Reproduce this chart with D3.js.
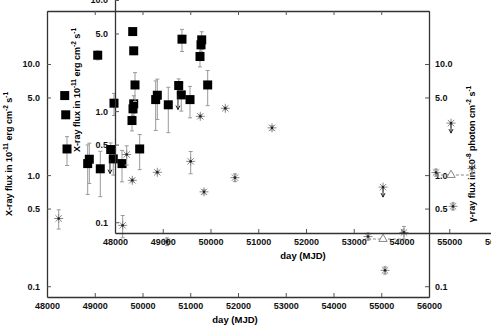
<!DOCTYPE html>
<html>
<head>
<meta charset="utf-8">
<script src="https://cdn.jsdelivr.net/npm/d3@7"></script>
<style>
  body { margin: 0; background: #fff; }
  text { font-family: "Liberation Sans", Arial, sans-serif; font-weight: bold; }
</style>
</head>
<body>
<svg id="chart" width="491" height="327"></svg>
<script>

// DATA

// X-ray flux (squares), 10^-11 erg cm^-2 s^-1
var xrayMjd  = [48371, 48392, 48419, 48852, 48886, 49062, 49116, 49334, 49388, 49403, 49571, 49780, 49801, 49816, 49941];
var xrayFlux = [5.20, 3.49, 1.72, 1.27, 1.39, 12.0, 1.14, 1.70, 1.40, 4.44, 1.27, 3.10, 3.95, 4.38, 1.72];
var xrayErr  = [0.3, 0.2, 0.5, 0.6, 0.55, 1.1, 0.5, 0.25, 0.4, 1.0, 0.4, 0.6, 0.5, 0.8, 0.6];

// X-ray upper limit
var xrayLimMjd  = [49319];
var xrayLimFlux = [1.38];

// gamma-ray flux (asterisks), 10^-8 photon cm^-2 s^-1
var gammaMjd  = [48245, 49585, 49786, 50310, 50513, 51288, 54723, 55079, 55476];
var gammaFlux = [0.407, 0.353, 0.898, 1.06, 0.252, 0.707, 0.280, 0.139, 0.305];
var gammaErr  = [0.08, 0.08, 0.03, 0.03, 0.02, 0.03, 0.02, 0.01, 0.04];

// gamma-ray upper limit
var gammaLimMjd  = [55037];
var gammaLimFlux = [0.78];

// averaged point (triangle) with its time span
var avgMjd   = [55037];
var avgFlux  = [0.266];
var avgErr   = [0.015];
var avgFrom  = [54720];
var avgTo    = [55480];

// axes
var xTicks = [48000, 49000, 50000, 51000, 52000, 53000, 54000, 55000, 56000];
var yTicks = [0.1, 0.5, 1.0, 5.0, 10.0];
var xDomain = [48000, 56000];
var yDomain = [0.08, 30];


// LAYOUT

var margin = { left: 47, top: 11 };
var width  = 382;
var height = 286;
var insetOffset = [68, -64];

var svg = d3.select( '#chart' );

var x = d3.scaleLinear().domain( xDomain ).range( [0, width] );
var y = d3.scaleLog().domain( yDomain ).range( [height, 0] );

var fmt = d3.format( '.1f' );


// HELPERS

function styleAxis( g ) {
    g.select( '.domain' ).attr( 'stroke', '#333' ).attr( 'stroke-width', 1.3 );
    g.selectAll( '.tick line' ).attr( 'stroke', '#555' );
    g.selectAll( '.tick text' ).attr( 'fill', '#111' ).style( 'font-size', '9px' );
}

// Text with superscript parts: [ [text, isSup], ... ]
function richText( sel, parts ) {
    parts.forEach( function( p ) {
        var t = sel.append( 'tspan' ).text( p[0] );
        if ( p[1] ) {
            t.attr( 'dy', -4 ).style( 'font-size', '6.5px' );
        } else {
            t.attr( 'dy', 4 );
        }
    } );
    // first tspan must not shift
    sel.select( 'tspan' ).attr( 'dy', 0 );
}

var starPath = 'M-4.5,0H4.5M0,-4.5V4.5M-3.2,-3.2L3.2,3.2M-3.2,3.2L3.2,-3.2';


// PANEL (drawn twice, the second copy shifted up-right)

function drawPanel( root ) {

    var g = root.append( 'g' )
                .attr( 'transform', 'translate(' + margin.left + ',' + margin.top + ')' );

    // Axes
    g.append( 'g' )
        .attr( 'transform', 'translate(0,' + height + ')' )
        .call( d3.axisBottom( x ).tickValues( xTicks ).tickSizeInner( -4 ).tickSizeOuter( 0 ).tickPadding( 6 ).tickFormat( d3.format( 'd' ) ) )
        .call( styleAxis );

    g.append( 'g' )
        .call( d3.axisTop( x ).tickValues( xTicks ).tickSizeInner( -4 ).tickSizeOuter( 0 ).tickFormat( '' ) )
        .call( styleAxis );

    g.append( 'g' )
        .call( d3.axisLeft( y ).tickValues( yTicks ).tickSizeInner( -4 ).tickSizeOuter( 0 ).tickPadding( 7 ).tickFormat( fmt ) )
        .call( styleAxis );

    g.append( 'g' )
        .attr( 'transform', 'translate(' + width + ',0)' )
        .call( d3.axisRight( y ).tickValues( yTicks ).tickSizeInner( -4 ).tickSizeOuter( 0 ).tickPadding( 6 ).tickFormat( fmt ) )
        .call( styleAxis );

    // Axis titles
    g.append( 'text' )
        .attr( 'x', width / 2 - 3 )
        .attr( 'y', height + 26 )
        .attr( 'text-anchor', 'middle' )
        .style( 'font-size', '9.5px' )
        .text( 'day (MJD)' );

    var yl = g.append( 'text' )
                .attr( 'transform', 'translate(' + ( -35 ) + ',' + ( height / 2 ) + ') rotate(-90)' )
                .attr( 'text-anchor', 'middle' )
                .style( 'font-size', '9px' );
    richText( yl, [ ['X-ray flux in 10', 0], ['-11', 1], [' erg cm', 0], ['-2', 1], [' s', 0], ['-1', 1] ] );

    var yr = g.append( 'text' )
                .attr( 'transform', 'translate(' + ( width + 46 ) + ',' + ( height / 2 ) + ') rotate(-90)' )
                .attr( 'text-anchor', 'middle' )
                .style( 'font-size', '9px' );
    richText( yr, [ ['\u03b3-ray flux in 10', 0], ['-8', 1], [' photon cm', 0], ['-2', 1], [' s', 0], ['-1', 1] ] );

    // X-ray error bars
    var xray = xrayMjd.map( function( d, i ) {
        return { mjd: d, v: xrayFlux[i], e: xrayErr[i] };
    } );

    var eb = g.append( 'g' ).attr( 'stroke', '#999' ).attr( 'stroke-width', 1 );
    xray.forEach( function( d ) {
        var cx = x( d.mjd ), y0 = y( d.v - d.e ), y1 = y( d.v + d.e );
        eb.append( 'line' ).attr( 'x1', cx ).attr( 'x2', cx ).attr( 'y1', y0 ).attr( 'y2', y1 );
        eb.append( 'line' ).attr( 'x1', cx - 2 ).attr( 'x2', cx + 2 ).attr( 'y1', y0 ).attr( 'y2', y0 );
        eb.append( 'line' ).attr( 'x1', cx - 2 ).attr( 'x2', cx + 2 ).attr( 'y1', y1 ).attr( 'y2', y1 );
    } );

    // gamma error bars
    var gamma = gammaMjd.map( function( d, i ) {
        return { mjd: d, v: gammaFlux[i], e: gammaErr[i] };
    } );
    gamma.forEach( function( d ) {
        var cx = x( d.mjd ), y0 = y( d.v - d.e ), y1 = y( d.v + d.e );
        eb.append( 'line' ).attr( 'x1', cx ).attr( 'x2', cx ).attr( 'y1', y0 ).attr( 'y2', y1 );
        eb.append( 'line' ).attr( 'x1', cx - 2 ).attr( 'x2', cx + 2 ).attr( 'y1', y0 ).attr( 'y2', y0 );
        eb.append( 'line' ).attr( 'x1', cx - 2 ).attr( 'x2', cx + 2 ).attr( 'y1', y1 ).attr( 'y2', y1 );
    } );

    // averaged point: dashed time span, small error, open triangle
    avgMjd.forEach( function( d, i ) {
        var cy = y( avgFlux[i] );
        g.append( 'line' )
            .attr( 'x1', x( avgFrom[i] ) ).attr( 'x2', x( avgTo[i] ) )
            .attr( 'y1', cy ).attr( 'y2', cy )
            .attr( 'stroke', '#888' ).attr( 'stroke-dasharray', '3,2' );
        g.append( 'line' )
            .attr( 'x1', x( d ) ).attr( 'x2', x( d ) )
            .attr( 'y1', y( avgFlux[i] - avgErr[i] ) ).attr( 'y2', y( avgFlux[i] + avgErr[i] ) )
            .attr( 'stroke', '#999' );
        g.append( 'path' )
            .attr( 'd', d3.symbol( d3.symbolTriangle, 30 ) )
            .attr( 'transform', 'translate(' + x( d ) + ',' + cy + ')' )
            .attr( 'fill', '#fff' ).attr( 'stroke', '#888' );
    } );

    // X-ray squares
    g.append( 'g' ).selectAll( 'rect' )
        .data( xray )
        .join( 'rect' )
        .attr( 'x', function( d ) { return x( d.mjd ) - 4.5; } )
        .attr( 'y', function( d ) { return y( d.v ) - 4.5; } )
        .attr( 'width', 9 ).attr( 'height', 9 )
        .attr( 'fill', '#000' );

    // gamma asterisks (including the upper limit)
    var stars = gamma.concat( gammaLimMjd.map( function( d, i ) {
        return { mjd: d, v: gammaLimFlux[i] };
    } ) );
    var sg = g.append( 'g' ).selectAll( 'g' )
                .data( stars )
                .join( 'g' )
                .attr( 'transform', function( d ) { return 'translate(' + x( d.mjd ) + ',' + y( d.v ) + ')'; } );
    sg.append( 'path' ).attr( 'd', starPath ).attr( 'stroke', '#888' ).attr( 'stroke-width', 1 ).attr( 'fill', 'none' );
    sg.append( 'circle' ).attr( 'r', 1.3 ).attr( 'fill', '#222' );

    // Upper-limit arrows
    function arrow( mjd, v, len ) {
        var cx = x( mjd ), cy = y( v );
        g.append( 'path' )
            .attr( 'd', 'M' + cx + ',' + cy + 'V' + ( cy + len ) +
                        'M' + ( cx - 2 ) + ',' + ( cy + len - 4 ) + 'L' + cx + ',' + ( cy + len ) + 'L' + ( cx + 2 ) + ',' + ( cy + len - 4 ) )
            .attr( 'stroke', '#222' ).attr( 'stroke-width', 1 ).attr( 'fill', 'none' );
    }
    xrayLimMjd.forEach( function( d, i ) { arrow( d, xrayLimFlux[i], 14 ); } );
    gammaLimMjd.forEach( function( d, i ) { arrow( d, gammaLimFlux[i], 10 ); } );

}

// main frame
drawPanel( svg.append( 'g' ) );

// shifted copy laid over it
drawPanel( svg.append( 'g' ).attr( 'transform', 'translate(' + insetOffset[0] + ',' + insetOffset[1] + ')' ) );

</script>
</body>
</html>
